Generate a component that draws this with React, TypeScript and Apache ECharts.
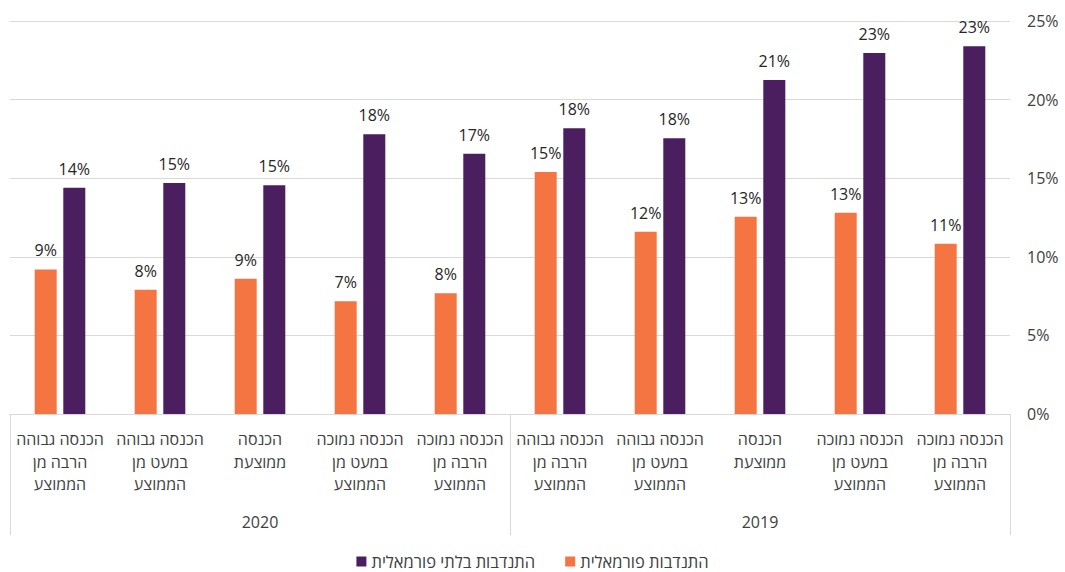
import React, { useEffect, useRef } from "react";
import * as echarts from "echarts";

const categories = [
  "הכנסה גבוהה\nהרבה מן\nהממוצע",
  "הכנסה גבוהה\nבמעט מן\nהממוצע",
  "הכנסה\nממוצעת",
  "הכנסה נמוכה\nבמעט מן\nהממוצע",
  "הכנסה נמוכה\nהרבה מן\nהממוצע",
  "הכנסה גבוהה\nהרבה מן\nהממוצע",
  "הכנסה גבוהה\nבמעט מן\nהממוצע",
  "הכנסה\nממוצעת",
  "הכנסה נמוכה\nבמעט מן\nהממוצע",
  "הכנסה נמוכה\nהרבה מן\nהממוצע",
];
const years = ["2020", "2019"];
const formalName = "התנדבות פורמאלית";
const informalName = "התנדבות בלתי פורמאלית";
const formalValues = [9.2, 7.9, 8.6, 7.17, 7.68, 15.4, 11.6, 12.55, 12.8, 10.83];
const informalValues = [14.4, 14.7, 14.55, 17.8, 16.56, 18.17, 17.54, 21.25, 22.96, 23.4];
const yTicks = { min: 0, max: 25, interval: 5 };

const FONT = "'Open Sans', 'Noto Sans', sans-serif";
const TEXT = "#262626";
const AXIS_TEXT = "#404040";
const GRID = "#d9d9d9";

export default function App() {
  const ref = useRef<HTMLDivElement>(null);
  useEffect(() => {
    if (!ref.current) return;
    const chart = echarts.init(ref.current, null, { renderer: "svg" });
    const label = {
      show: true,
      position: "top",
      distance: 11,
      color: TEXT,
      fontSize: 16,
      fontFamily: FONT,
      formatter: (p: any) => Math.round(p.value) + "%",
    };
    chart.setOption({
      animation: false,
      textStyle: { fontFamily: FONT },
      grid: { left: 10, right: 55, top: 21, bottom: 158, containLabel: false },
      legend: {
        bottom: -3,
        left: "center",
        itemWidth: 10,
        itemHeight: 10,
        itemGap: 30,
        icon: "rect",
        textStyle: { fontSize: 16.5, color: AXIS_TEXT, fontFamily: FONT },
        data: [informalName, formalName],
      },
      xAxis: [
        {
          type: "category",
          data: categories,
          position: "bottom",
          axisLine: { show: true, lineStyle: { color: GRID, width: 1 } },
          axisTick: { show: false },
          axisLabel: {
            interval: 0,
            margin: 14,
            color: AXIS_TEXT,
            fontSize: 16,
            lineHeight: 22.5,
            fontFamily: FONT,
          },
        },
        {
          type: "category",
          data: years,
          position: "bottom",
          offset: 0,
          axisLine: { show: false },
          axisTick: { show: true, length: 121, interval: 0, lineStyle: { color: GRID, width: 1 } },
          axisLabel: { interval: 0, margin: 100, color: AXIS_TEXT, fontSize: 16, fontFamily: FONT },
        },
      ],
      yAxis: {
        type: "value",
        position: "right",
        min: yTicks.min,
        max: yTicks.max,
        interval: yTicks.interval,
        axisLine: { show: false },
        axisTick: { show: false },
        splitLine: { lineStyle: { color: GRID, width: 1 } },
        axisLabel: {
          margin: 17,
          color: AXIS_TEXT,
          fontSize: 16,
          fontFamily: FONT,
          formatter: "{value}%",
        },
      },
      series: [
        {
          name: formalName,
          type: "bar",
          xAxisIndex: 0,
          data: formalValues,
          barWidth: 22,
          barGap: "30%",
          itemStyle: { color: "#F47542" },
          label,
        },
        {
          name: informalName,
          type: "bar",
          xAxisIndex: 0,
          data: informalValues,
          barWidth: 22,
          barGap: "30%",
          itemStyle: { color: "#4B1F5F" },
          label,
        },
      ],
    });
    return () => chart.dispose();
  }, []);
  return (
    <div
      ref={ref}
      style={{ position: "absolute", left: 0, top: 0, width: 1065, height: 572 }}
    />
  );
}
